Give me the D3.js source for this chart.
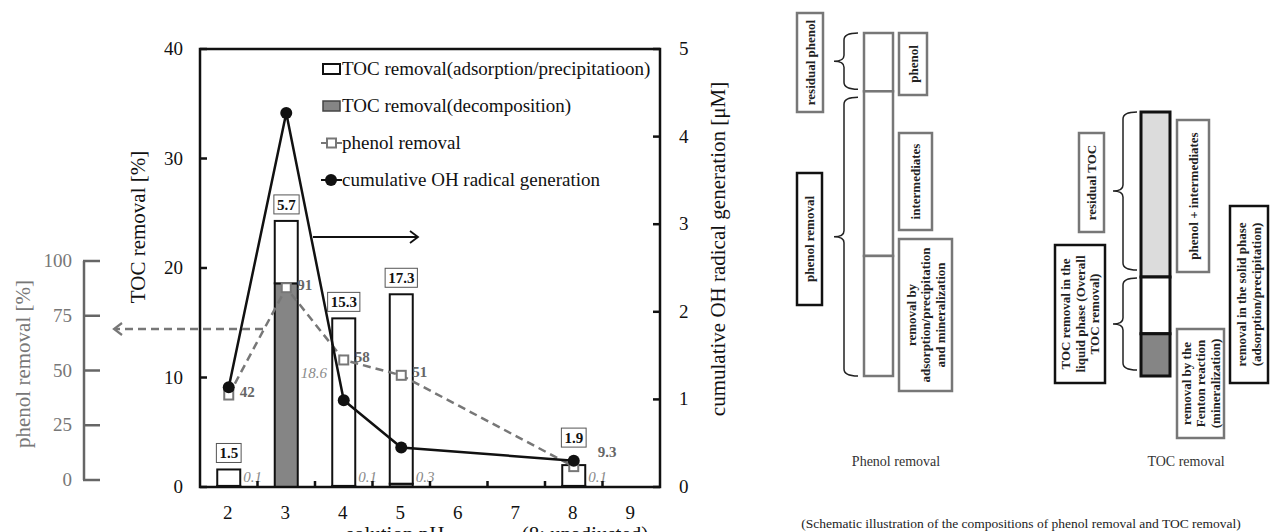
<!DOCTYPE html>
<html><head><meta charset="utf-8">
<script src="https://cdn.jsdelivr.net/npm/d3@7"></script>
<style>
body{margin:0;background:#fff}
svg{display:block}
svg, svg text{font-family:"Liberation Serif","Times New Roman",Times,"DejaVu Serif",serif}
</style>
</head><body>
<svg id="c" width="1271" height="532" font-family="Liberation Serif, Times New Roman, DejaVu Serif, serif"></svg>
<script>
// ---------------- data ----------------
const categories = ["2","3","4","5","6","7","8","9"];
const barCategories = ["2","3","4","5","8"];
const adsorptionRemoval = [1.5, 5.7, 15.3, 17.3, 1.9];
const decompositionRemoval = [0.1, 18.6, 0.1, 0.3, 0.1];
const phenolRemoval = [42, 91, 58, 51, 9.3];
const ohRadical = [1.14, 4.27, 0.99, 0.45, 0.30];
const tocTicks = [0, 10, 20, 30, 40];
const ohTicks = [0, 1, 2, 3, 4, 5];
const phenolTicks = [0, 25, 50, 75, 100];
const legendLabels = ["TOC removal(adsorption/precipitatioon)", "TOC removal(decomposition)", "phenol removal", "cumulative OH radical generation"];
// schematic compositions (percent of column height)
const phenolParts = ["phenol", "intermediates", "removal by adsorption/precipitation and mineralization"];
const phenolShares = [17, 48, 35];
const tocParts = ["phenol + intermediates", "removal in the solid phase", "removal by the Fenton reaction"];
const tocShares = [62.5, 21.5, 16];

const FONT = "'Liberation Serif','Times New Roman',Times,'DejaVu Serif',serif";

// ---------------- setup ----------------
const svg = d3.select("#c");
const L = 200, R = 660, T = 49, B = 487;
const x = d3.scaleBand().domain(categories).range([L, R]);
const yL = d3.scaleLinear().domain([0, 40]).range([B, T]);
const yR = d3.scaleLinear().domain([0, 5]).range([B, T]);
const yP = d3.scaleLinear().domain([0, 100]).range([yL(0), yL(20)]);   // phenol markers
const yPaxis = d3.scaleLinear().domain([0, 100]).range([480, 261]);     // detached phenol axis
const bw = 23;
const cx = c => x(c) + x.bandwidth() / 2;

// ---------------- bars ----------------
const bars = barCategories.map((c, i) => ({c, dec: decompositionRemoval[i], ads: adsorptionRemoval[i]}));
const g = svg.append("g");
g.selectAll("rect.dec").data(bars).join("rect")
  .attr("x", d => cx(d.c) - bw / 2).attr("width", bw)
  .attr("y", d => yL(d.dec)).attr("height", d => yL(0) - yL(d.dec))
  .attr("fill", "#858585").attr("stroke", "#111").attr("stroke-width", 2);
g.selectAll("rect.ads").data(bars).join("rect")
  .attr("x", d => cx(d.c) - bw / 2).attr("width", bw)
  .attr("y", d => yL(d.dec + d.ads)).attr("height", d => yL(d.dec) - yL(d.dec + d.ads))
  .attr("fill", "#fff").attr("stroke", "#111").attr("stroke-width", 2);

// boxed adsorption labels
bars.forEach(d => {
  const top = yL(d.dec + d.ads) - (d.c === "8" ? 18 : 7);
  const t = g.append("text").attr("x", cx(d.c)).attr("y", top - 4).attr("font-family", FONT)
    .attr("text-anchor", "middle").attr("font-size", 15).attr("font-weight", "bold").attr("fill", "#111")
    .text(d.ads);
  const bb = t.node().getBBox();
  g.insert("rect", "text").attr("x", bb.x - 3).attr("y", top - 19).attr("width", bb.width + 6).attr("height", 19)
    .attr("fill", "#fff").attr("stroke", "#555").attr("stroke-width", 1);
});
// italic decomposition labels
bars.forEach(d => {
  g.append("text").attr("x", cx(d.c) + bw / 2 + 3).attr("font-family", FONT)
    .attr("y", Math.min(yL(0) - 5, yL(d.dec * 0.6) + 13))
    .attr("font-size", 15).attr("font-style", "italic").attr("fill", "#8a8a8a")
    .text(d.dec);
});

// ---------------- frame & axes ----------------
const ax = svg.append("g").attr("stroke", "#111").attr("stroke-width", 2.5).attr("fill", "none");
ax.append("rect").attr("x", L).attr("y", T).attr("width", R - L).attr("height", B - T);
tocTicks.forEach(v => ax.append("line").attr("x1", L).attr("x2", L + 7).attr("y1", yL(v)).attr("y2", yL(v)));
ohTicks.forEach(v => ax.append("line").attr("x1", R).attr("x2", R - 7).attr("y1", yR(v)).attr("y2", yR(v)));
categories.slice(1).forEach(c => ax.append("line").attr("x1", x(c)).attr("x2", x(c)).attr("y1", B).attr("y2", B - 6));

const tl = svg.append("g").attr("font-size", 19).attr("fill", "#111").attr("font-family", FONT);
tocTicks.forEach(v => tl.append("text").attr("x", L - 17).attr("y", yL(v) + 6).attr("text-anchor", "end").text(v));
ohTicks.forEach(v => tl.append("text").attr("x", R + 19).attr("y", yR(v) + 6).attr("text-anchor", "start").text(v));
categories.forEach(c => tl.append("text").attr("x", cx(c) - 1).attr("y", 519).attr("text-anchor", "middle").text(c));

// axis titles
const tt = svg.append("g").attr("font-family", FONT).attr("font-size", 21).attr("fill", "#111");
tt.append("text").attr("transform", `translate(145,227) rotate(-90)`).attr("text-anchor", "middle").text("TOC removal [%]");
tt.append("text").attr("transform", `translate(725,249) rotate(-90)`).attr("text-anchor", "middle").text("cumulative OH radical generation [μM]");
tt.append("text").attr("x", 395).attr("y", 541).attr("text-anchor", "middle").text("solution pH");
tt.append("text").attr("x", 585).attr("y", 541).attr("text-anchor", "middle").text("(8: unadjusted)");

// detached phenol axis
const pa = svg.append("g").attr("stroke", "#666").attr("stroke-width", 2.5);
pa.append("line").attr("x1", 84).attr("x2", 84).attr("y1", yPaxis(100)).attr("y2", yPaxis(0));
phenolTicks.forEach(v => pa.append("line").attr("x1", 83).attr("x2", 100).attr("y1", yPaxis(v)).attr("y2", yPaxis(v)));
const pt = svg.append("g").attr("font-family", FONT).attr("fill", "#777");
phenolTicks.forEach(v => pt.append("text").attr("x", 72).attr("y", yPaxis(v) + 6).attr("text-anchor", "end")
  .attr("font-size", 19).text(v));
pt.append("text").attr("transform", `translate(30,364) rotate(-90)`).attr("text-anchor", "middle")
  .attr("font-size", 21).text("phenol removal [%]");

// ---------------- lines ----------------
const pts = barCategories.map((c, i) => ({c, p: phenolRemoval[i], oh: ohRadical[i]}));
svg.append("path").datum(pts)
  .attr("d", d3.line().x(d => cx(d.c)).y(d => yP(d.p)))
  .attr("fill", "none").attr("stroke", "#777").attr("stroke-width", 2.5).attr("stroke-dasharray", "8,5");
svg.selectAll("rect.pm").data(pts).join("rect")
  .attr("x", d => cx(d.c) - 4.5).attr("y", d => yP(d.p) - 4.5).attr("width", 9).attr("height", 9)
  .attr("fill", "#fff").attr("stroke", "#777").attr("stroke-width", 2);
svg.append("path").datum(pts)
  .attr("d", d3.line().x(d => cx(d.c)).y(d => yR(d.oh)))
  .attr("fill", "none").attr("stroke", "#111").attr("stroke-width", 2.5);
svg.selectAll("circle.oh").data(pts).join("circle")
  .attr("cx", d => cx(d.c)).attr("cy", d => yR(d.oh)).attr("r", 6).attr("fill", "#111");
pts.forEach((d, i) => {
  const last = i === pts.length - 1;
  svg.append("text").attr("x", cx(d.c) + (last ? 24 : 11)).attr("y", yP(d.p) + (last ? -10 : 2))
    .attr("font-family", FONT).attr("font-size", 15).attr("font-weight", "bold").attr("fill", "#666").text(d.p);
});

// ---------------- arrows ----------------
svg.append("line").attr("x1", 313).attr("x2", 417).attr("y1", 237).attr("y2", 237).attr("stroke", "#111").attr("stroke-width", 1.8);
svg.append("path").attr("d", "M410,231 L418,237 L410,243").attr("fill", "none").attr("stroke", "#111").attr("stroke-width", 1.8);
svg.append("line").attr("x1", 263).attr("x2", 116).attr("y1", 329).attr("y2", 329).attr("stroke", "#777").attr("stroke-width", 2.5).attr("stroke-dasharray", "8,5");
svg.append("path").attr("d", "M122,323 L114,329 L122,335").attr("fill", "none").attr("stroke", "#777").attr("stroke-width", 2.2);

// ---------------- legend ----------------
const lg = svg.append("g");
const ly = [69, 106, 143, 180];
lg.append("rect").attr("x", 323).attr("y", ly[0] - 5).attr("width", 17).attr("height", 10).attr("fill", "#fff").attr("stroke", "#111").attr("stroke-width", 2);
lg.append("rect").attr("x", 323).attr("y", ly[1] - 5).attr("width", 17).attr("height", 10).attr("fill", "#858585").attr("stroke", "#444").attr("stroke-width", 1.5);
lg.append("line").attr("x1", 321).attr("x2", 342).attr("y1", ly[2]).attr("y2", ly[2]).attr("stroke", "#777").attr("stroke-width", 2);
lg.append("rect").attr("x", 327).attr("y", ly[2] - 4.5).attr("width", 9).attr("height", 9).attr("fill", "#fff").attr("stroke", "#777").attr("stroke-width", 2);
lg.append("line").attr("x1", 321).attr("x2", 342).attr("y1", ly[3]).attr("y2", ly[3]).attr("stroke", "#111").attr("stroke-width", 2);
lg.append("circle").attr("cx", 331).attr("cy", ly[3]).attr("r", 6).attr("fill", "#111");
legendLabels.forEach((s, i) => lg.append("text").attr("x", 342).attr("y", ly[i] + 6).attr("font-family", FONT)
  .attr("font-size", 19).attr("fill", "#111").text(s));

// ---------------- schematic ----------------
const sc = svg.append("g");
function stackSegs(shares) {
  let acc = 0;
  return shares.map(s => { const a = acc; acc += s; return [a, acc]; });
}
function brace(xv, y0, y1, w = 14, tip = 10) {
  const ym = (y0 + y1) / 2;
  return `M${xv + w},${y0} Q${xv},${y0} ${xv},${y0 + 7} L${xv},${ym - 6} Q${xv},${ym} ${xv - tip},${ym} Q${xv},${ym} ${xv},${ym + 6} L${xv},${y1 - 7} Q${xv},${y1} ${xv + w},${y1}`;
}
const yPh = d3.scaleLinear().domain([0, 100]).range([33, 376]);
const phSegs = stackSegs(phenolShares);
sc.selectAll("rect.ph").data(phSegs).join("rect")
  .attr("x", 864).attr("width", 29).attr("y", d => yPh(d[0])).attr("height", d => yPh(d[1]) - yPh(d[0]))
  .attr("fill", "#fff").attr("stroke", "#777").attr("stroke-width", 2.5);
sc.append("path").attr("d", brace(844, yPh(phSegs[0][0]), yPh(phSegs[0][1]) - 2)).attr("fill", "none").attr("stroke", "#222").attr("stroke-width", 1.5);
sc.append("path").attr("d", brace(844, yPh(phSegs[1][0]) + 6, yPh(phSegs[2][1]))).attr("fill", "none").attr("stroke", "#222").attr("stroke-width", 1.5);
const yTc = d3.scaleLinear().domain([0, 100]).range([112, 376]);
const tcSegs = stackSegs(tocShares);
const tcFill = ["#dcdcdc", "#fff", "#858585"];
sc.selectAll("rect.tc").data(tcSegs).join("rect")
  .attr("x", 1141).attr("width", 29).attr("y", d => yTc(d[0])).attr("height", d => yTc(d[1]) - yTc(d[0]))
  .attr("fill", (d, i) => tcFill[i]).attr("stroke", "#111").attr("stroke-width", 3);
sc.append("path").attr("d", brace(1123, yTc(tcSegs[0][0]), yTc(tcSegs[0][1]) - 7)).attr("fill", "none").attr("stroke", "#222").attr("stroke-width", 1.5);
sc.append("path").attr("d", brace(1123, yTc(tcSegs[1][0]) + 1, yTc(tcSegs[2][1]) - 6)).attr("fill", "none").attr("stroke", "#222").attr("stroke-width", 1.5);

const boxes = [
  {x0: 797, x1: 823, y0: 13, y1: 112, s: "#777", lines: ["residual phenol"]},
  {x0: 797, x1: 822, y0: 173, y1: 305, s: "#111", lines: ["phenol removal"]},
  {x0: 899, x1: 927, y0: 33, y1: 95, s: "#777", lines: [phenolParts[0]]},
  {x0: 899, x1: 932, y0: 133, y1: 230, s: "#777", lines: [phenolParts[1]]},
  {x0: 899, x1: 952, y0: 239, y1: 391, s: "#777", lines: ["removal by", "adsorption/precipitation", "and mineralization"]},
  {x0: 1079, x1: 1104, y0: 133, y1: 232, s: "#777", lines: ["residual TOC"]},
  {x0: 1055, x1: 1105, y0: 245, y1: 383, s: "#111", lines: ["TOC removal in the", "liquid phase (Overall", "TOC removal)"]},
  {x0: 1177, x1: 1209, y0: 120, y1: 272, s: "#777", lines: [tocParts[0]]},
  {x0: 1177, x1: 1224, y0: 329, y1: 438, s: "#777", lines: ["removal by the", "Fenton reaction", "(mineralization)"]},
  {x0: 1230, x1: 1268, y0: 206, y1: 383, s: "#111", lines: [tocParts[1], "(adsorption/precipitation)"]}
];
boxes.forEach(b => {
  sc.append("rect").attr("x", b.x0).attr("y", b.y0).attr("width", b.x1 - b.x0).attr("height", b.y1 - b.y0)
    .attr("fill", "#fff").attr("stroke", b.s).attr("stroke-width", 2.5);
  const cxx = (b.x0 + b.x1) / 2, cyy = (b.y0 + b.y1) / 2;
  const n = b.lines.length, lh = 14.5;
  const t = sc.append("text").attr("transform", `translate(${cxx},${cyy}) rotate(-90)`).attr("font-family", FONT)
    .attr("text-anchor", "middle").attr("font-size", 13).attr("font-weight", "bold").attr("fill", "#222");
  b.lines.forEach((s, i) => t.append("tspan").attr("x", 0).attr("y", (i - (n - 1) / 2) * lh + 4.5).text(s));
});
const cap = sc.append("g").attr("font-family", FONT).attr("fill", "#333").attr("text-anchor", "middle");
cap.append("text").attr("x", 896).attr("y", 466).attr("font-size", 14).text("Phenol removal");
cap.append("text").attr("x", 1186).attr("y", 466).attr("font-size", 14).text("TOC removal");
cap.append("text").attr("x", 1021).attr("y", 528).attr("font-size", 13.5).attr("fill", "#222")
  .text("(Schematic illustration of the compositions of phenol removal and TOC removal)");
</script>
</body></html>
